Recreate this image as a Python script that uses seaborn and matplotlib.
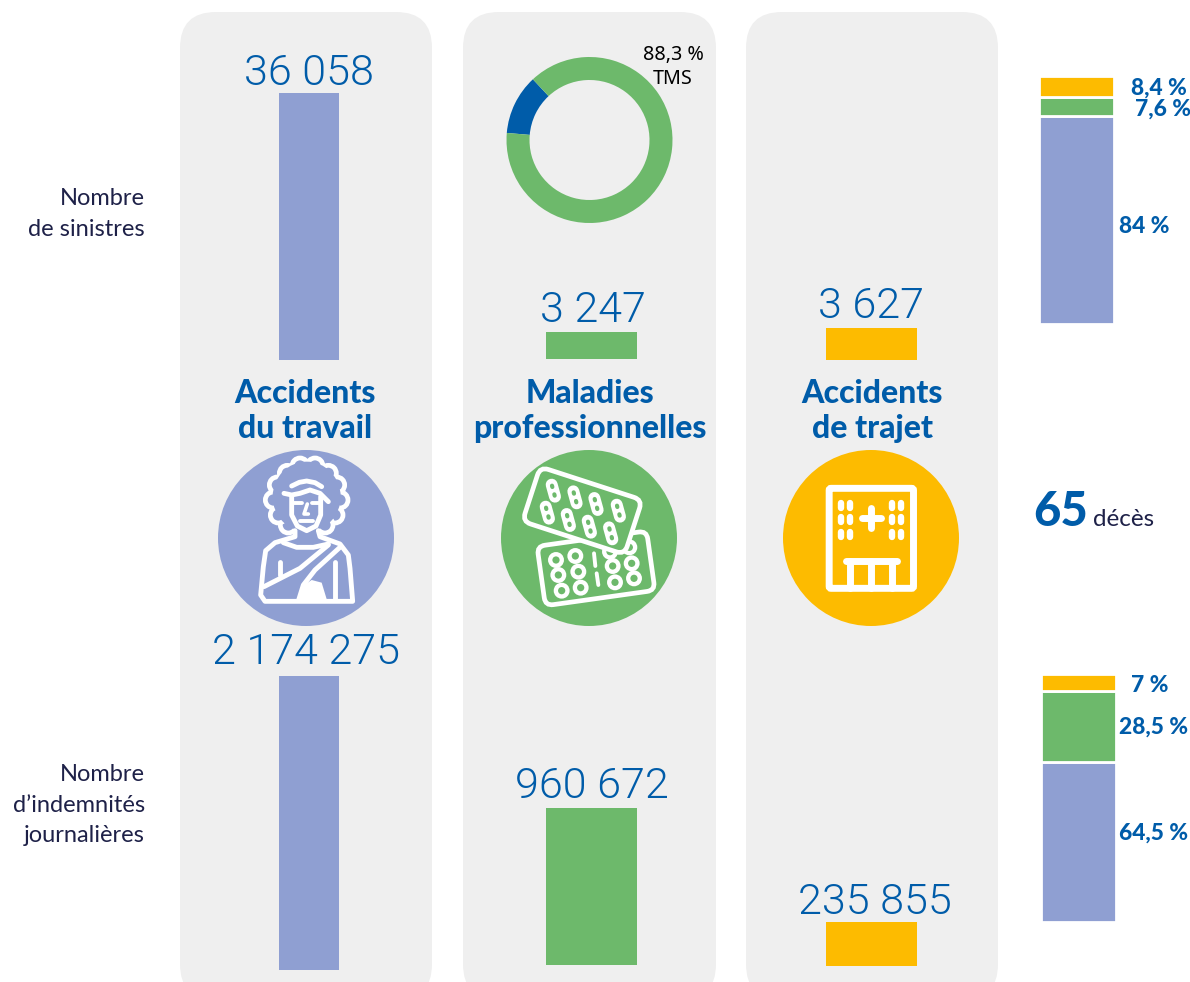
import matplotlib
matplotlib.use("Agg")
import matplotlib.pyplot as plt
import seaborn as sns
from matplotlib.patches import Circle, Ellipse, FancyBboxPatch, Polygon
from matplotlib.transforms import Affine2D

# data
categories = ["Accidents\ndu travail", "Maladies\nprofessionnelles", "Accidents\nde trajet"]
sinistres = [36058, 3247, 3627]
indemnites = [2174275, 960672, 235855]
sinistres_share = [84, 7.6, 8.4]
sinistres_share_labels = ["84 %", "7,6 %", "8,4 %"]
indemnites_share = [64.5, 28.5, 7]
indemnites_share_labels = ["64,5 %", "28,5 %", "7 %"]
tms_share = [11.7, 88.3]
deces = 65

W, H = 1190, 982
LAV, GREEN, YEL = "#8F9FD2", "#6DB96B", "#FDBB00"
BLUE, NAVY, PANEL = "#005CA9", "#1E2148", "#EFEFEF"
colors = [LAV, GREEN, YEL]

sns.set_theme(style="white")
plt.rcParams["font.family"] = ["Lato", "DejaVu Sans"]

fig = plt.figure(figsize=(W / 100, H / 100), dpi=100, facecolor="white")

bg = fig.add_axes([0, 0, 1, 1])
bg.set_xlim(0, W)
bg.set_ylim(H, 0)
bg.axis("off")


def px_axes(x0, y0, x1, y1):
    ax = fig.add_axes([x0 / W, 1 - y1 / H, (x1 - x0) / W, (y1 - y0) / H])
    ax.patch.set_alpha(0)
    return ax


# grey panels
for x0, x1 in [(180, 432), (463, 716), (746, 998)]:
    r = 36
    bg.add_patch(FancyBboxPatch((x0 + r, 12 + r), x1 - x0 - 2 * r, 1000 - 2 * r - 12,
                                boxstyle=f"round,pad={r},rounding_size={r}",
                                fc=PANEL, ec="none", zorder=0))

# main bars, each axes spans its bar
top_boxes = [(279, 93, 339, 360), (546, 332, 637, 359), (826, 328, 917, 360)]
bottom_boxes = [(279, 676, 339, 970), (546, 808, 637, 965), (826, 922, 917, 966)]
for values, boxes in [(sinistres, top_boxes), (indemnites, bottom_boxes)]:
    for cat, val, box, col in zip(categories, values, boxes, colors):
        ax = px_axes(*box)
        sns.barplot(x=[cat], y=[val], color=col, saturation=1, width=1, linewidth=0, ax=ax)
        ax.set_xlim(-0.5, 0.5)
        ax.set_ylim(0, val)
        ax.axis("off")

# values above the bars
value_pos = [[(309, 73), (593, 311), (871, 307)], [(306.5, 653), (591.5, 787), (875, 902)]]
for values, pos in zip([sinistres, indemnites], value_pos):
    for val, (x, y) in zip(values, pos):
        bg.text(x, y, f"{val:,}".replace(",", " "), color=BLUE, fontsize=31, fontweight=300,
                family="Roboto", ha="center", va="center")

# category titles
for cat, x in zip(categories, [305, 590, 872]):
    bg.text(x, 411, cat, color=BLUE, fontsize=23, fontweight="black", ha="center", va="center",
            linespacing=1.27)

# donut
ax = px_axes(506.5, 57, 672.5, 223)
ax.pie(tms_share, colors=[BLUE, GREEN], startangle=133, radius=1,
       wedgeprops={"width": 23 / 83, "linewidth": 0})
ax.set_xlim(-1, 1)
ax.set_ylim(-1, 1)
bg.text(673, 67, "88,3 %\nTMS", color="black", fontsize=14.2, family="Noto Sans",
        ha="center", va="center", linespacing=1.3)


# stacked bars on the right
def stacked(box, shares, labels, label_pos):
    ax = px_axes(*box)
    base = 0
    for share, col in zip(shares, colors):
        sns.barplot(x=["part"], y=[share], bottom=base, color=col, saturation=1, width=1,
                    edgecolor="white", linewidth=2, ax=ax)
        base += share
    ax.set_xlim(-0.5, 0.5)
    ax.set_ylim(0, sum(shares))
    ax.axis("off")
    for lab, (x, y) in zip(labels, label_pos):
        bg.text(x, y, lab, color=BLUE, fontsize=16.4, fontweight="black", ha="left", va="center")


stacked((1038.5, 76, 1114, 323.5), sinistres_share, sinistres_share_labels,
        [(1119, 226), (1135, 109), (1131, 88)])
stacked((1040.5, 674, 1116, 921.5), indemnites_share, indemnites_share_labels,
        [(1119, 833), (1119, 727), (1131, 686)])

# row labels
bg.text(145, 214, "Nombre\nde sinistres", color=NAVY, fontsize=17, ha="right", va="center",
        linespacing=1.55)
bg.text(145, 805, "Nombre\nd’indemnités\njournalières", color=NAVY, fontsize=17, ha="right",
        va="center", linespacing=1.58)
bg.text(1033, 512, str(deces), color=BLUE, fontsize=34, fontweight="black", ha="left", va="center")
bg.text(1093, 520, "décès", color=NAVY, fontsize=17.5, ha="left", va="center")

# icon discs
for cx, col in zip([306, 589, 871], colors):
    bg.add_patch(Circle((cx, 538), 88, fc=col, ec="none", zorder=2))


# icons are traced on a 3x grid, z() brings them back to pixels
def z(origin, pts):
    return [(origin[0] + a / 3, origin[1] + b / 3) for a, b in pts]


def stroke(origin, pts, lw=3.5, col="white", zo=4):
    p = z(origin, pts)
    bg.plot([a for a, b in p], [b for a, b in p], color=col, lw=lw, solid_capstyle="round",
            solid_joinstyle="round", zorder=zo)


def rrect(origin, cx, cy, w, h, angle, r, lw, fc, zo):
    cx, cy = z(origin, [(cx, cy)])[0]
    w, h, r = w / 3, h / 3, r / 3
    patch = FancyBboxPatch((cx - w / 2 + r, cy - h / 2 + r), w - 2 * r, h - 2 * r,
                           boxstyle=f"round,pad={r},rounding_size={r}", fc=fc, ec="white", lw=lw,
                           zorder=zo)
    patch.set_transform(Affine2D().rotate_deg_around(cx, cy, angle) + bg.transData)
    bg.add_patch(patch)


# person with a sling
o = (200, 440)
hair = [(262, 100), (300, 78), (345, 78), (385, 100), (410, 135), (420, 180), (405, 225),
        (375, 255), (265, 255), (235, 225), (220, 180), (232, 135)]
for a, b in z(o, hair):
    bg.add_patch(Circle((a, b), 8, fc=LAV, ec="white", lw=3.4, zorder=3))
cx, cy = z(o, [(320, 170)])[0]
bg.add_patch(Ellipse((cx, cy), 68, 70, fc=LAV, ec="none", zorder=3.5))
stroke(o, [(275, 138), (298, 127), (320, 123), (345, 128), (365, 140)])
stroke(o, [(252, 160), (275, 165), (300, 160), (330, 150), (360, 160), (385, 185)])
stroke(o, [(275, 170), (275, 225), (292, 258), (320, 272), (348, 258), (362, 225), (362, 170)])
stroke(o, [(282, 188), (306, 188)], lw=2.8)
stroke(o, [(336, 188), (358, 188)], lw=2.8)
stroke(o, [(322, 192), (312, 222), (325, 222)], lw=2.6)
stroke(o, [(300, 243), (338, 243)], lw=2.8)
stroke(o, [(285, 272), (285, 290), (225, 308), (197, 332), (190, 380), (182, 465), (195, 484),
           (458, 484), (450, 385), (445, 345), (420, 312), (360, 290), (355, 272)])
stroke(o, [(250, 308), (290, 322), (340, 322), (385, 312)])
stroke(o, [(192, 440), (300, 385), (385, 315)])
stroke(o, [(422, 320), (345, 390), (310, 435), (296, 480)])
stroke(o, [(240, 365), (240, 405)])
stroke(o, [(405, 365), (405, 480)])
bg.add_patch(Polygon(z(o, [(292, 484), (305, 440), (335, 420), (365, 428), (382, 484)]),
                     fc="white", ec="none", zorder=4))

# blister packs
o = (490, 440)
rrect(o, 318, 385, 332, 180, -8, 24, 3.4, GREEN, 3)
rings = [(198, 360), (256, 348), (418, 322), (360, 335), (205, 405), (265, 395), (368, 378),
         (425, 370), (215, 452), (272, 443), (375, 427), (432, 415)]
for a, b in z(o, rings):
    bg.add_patch(Circle((a, b), 5.8, fc=GREEN, ec="white", lw=3.1, zorder=3.2))
stroke(o, [(312, 340), (316, 378)], lw=2.8, zo=3.2)
stroke(o, [(320, 400), (325, 435)], lw=2.8, zo=3.2)
rrect(o, 277, 212, 322, 172, 18, 26, 3.4, GREEN, 3.5)
pills = [(190, 152), (255, 172), (318, 192), (385, 212), (172, 218), (235, 240), (298, 260),
         (362, 280)]
for a, b in pills:
    stroke(o, [(a - 5, b - 18), (a + 5, b + 18)], lw=8.6, zo=4)
    stroke(o, [(a - 4, b - 15), (a - 3, b - 11)], lw=3, col=GREEN, zo=4.5)
    stroke(o, [(a + 3, b + 11), (a + 4, b + 15)], lw=3, col=GREEN, zo=4.5)

# hospital
o = (775, 440)
rrect(o, 289, 295, 253, 300, 0, 6, 5, YEL, 3)
for a in [199, 226, 352, 378]:
    for b in [196, 239, 283]:
        stroke(o, [(a, b - 7), (a, b + 7)], lw=4.6)
stroke(o, [(260, 234), (318, 234)], lw=5)
stroke(o, [(289, 205), (289, 263)], lw=5)
stroke(o, [(212, 363), (367, 363)], lw=5)
for a in [225, 289, 352]:
    stroke(o, [(a, 363), (a, 445)], lw=5)

fig.savefig("out.png", dpi=100, facecolor="white")
